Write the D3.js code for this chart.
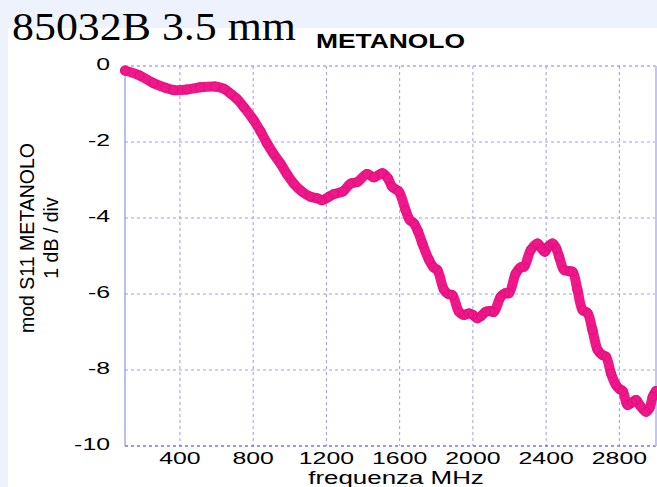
<!DOCTYPE html>
<html>
<head>
<meta charset="utf-8">
<script src="https://cdn.jsdelivr.net/npm/d3@7"></script>
<style>
    html, body { margin: 0; padding: 0; background: #eef2fc; }
    svg { display: block; }
    text { font-family: "Liberation Sans", Arial, Helvetica, sans-serif; fill: #000; }
</style>
</head>
<body>
<div id="chart"></div>
<script>
// frequency in MHz, |S11| in dB
var frequencies = [100, 180, 255, 320, 364, 438, 510, 592, 640, 675, 710, 747, 802, 840, 875, 910, 948, 985,
    1021, 1065, 1112, 1150, 1176, 1210, 1240, 1290, 1331, 1370, 1422, 1459, 1505, 1535, 1559, 1596, 1632, 1655,
    1678, 1700, 1724, 1760, 1785, 1806, 1842, 1865, 1888, 1924, 1950, 1979, 2000, 2024, 2045, 2070, 2095, 2115,
    2152, 2175, 2197, 2234, 2260, 2280, 2316, 2353, 2375, 2393, 2412, 2435, 2455, 2471, 2498, 2525, 2544, 2571,
    2599, 2626, 2653, 2681, 2705, 2727, 2754, 2781, 2800, 2818, 2845, 2870, 2891, 2915, 2945, 2965, 2982, 3000];
var s11Values = [-0.12, -0.25, -0.45, -0.57, -0.63, -0.62, -0.56, -0.54, -0.6, -0.72, -0.86, -1.07, -1.42, -1.72, -2.03, -2.3, -2.56, -2.85,
    -3.09, -3.3, -3.44, -3.48, -3.53, -3.45, -3.37, -3.3, -3.1, -3.05, -2.84, -2.93, -2.82, -2.95, -3.18, -3.31, -3.79, -4.05,
    -4.14, -4.35, -4.67, -5.1, -5.3, -5.37, -5.89, -6.0, -6.03, -6.47, -6.55, -6.51, -6.55, -6.64, -6.58, -6.47, -6.45, -6.47,
    -6.07, -5.98, -5.98, -5.46, -5.3, -5.28, -4.84, -4.67, -4.8, -4.89, -4.75, -4.67, -4.8, -5.02, -5.37, -5.4, -5.41, -5.89,
    -6.42, -6.5, -6.95, -7.47, -7.6, -7.65, -8.09, -8.39, -8.5, -8.55, -8.92, -8.85, -8.79, -8.95, -9.1, -9.0, -8.7, -8.55];
var xTicks = [400, 800, 1200, 1600, 2000, 2400, 2800];
var yTicks = [0, -2, -4, -6, -8, -10];

var titleText = "85032B 3.5 mm";
var subtitleText = "METANOLO";
var xLabel = "frequenza MHz";
var yLabelLines = ["mod S11 METANOLO", "1 dB / div"];

var width = 657, height = 487;
var plot = {left: 125, right: 656, top: 66, bottom: 446};
var curveColor = "#ef1789";
var gridColor = "#9c9cf0";

function stretchedText(parent, x, y, str, size, sx, anchor){
    // horizontally stretched label, the original picture is wider than its fonts
    return parent.append("text")
        .attr("transform", "translate(" + x + "," + y + ") scale(" + sx + ",1)")
        .attr("text-anchor", anchor)
        .style("font-size", size + "px")
        .text(str);
}

function drawChart(){
    var svg = d3.select("#chart").append("svg")
        .attr("width", width)
        .attr("height", height);

    svg.append("rect")
        .attr("x", 8).attr("y", 28)
        .attr("width", width - 8).attr("height", height - 28)
        .attr("fill", "#fff");

    var x = d3.scaleLinear().domain([100, 3000]).range([plot.left, plot.right]);
    var y = d3.scaleLinear().domain([-10, 0]).range([plot.bottom, plot.top]);

    // grid
    var grid = svg.append("g");
    grid.selectAll("line.vgrid").data(xTicks).enter().append("line")
        .attr("x1", function(d){ return x(d); }).attr("x2", function(d){ return x(d); })
        .attr("y1", plot.top).attr("y2", plot.bottom)
        .attr("stroke", gridColor).attr("stroke-dasharray", "3,3");
    grid.selectAll("line.hgrid").data(yTicks).enter().append("line")
        .attr("x1", plot.left).attr("x2", plot.right)
        .attr("y1", function(d){ return y(d); }).attr("y2", function(d){ return y(d); })
        .attr("stroke", function(d){ return d == -10 ? "#2c2ce6" : (d == 0 ? "#7e7ef0" : gridColor); })
        .attr("stroke-dasharray", "3,3");
    grid.append("line")
        .attr("x1", plot.left).attr("x2", plot.left)
        .attr("y1", plot.top).attr("y2", plot.bottom)
        .attr("stroke", "#7b7bee");
    grid.append("line")
        .attr("x1", plot.right).attr("x2", plot.right)
        .attr("y1", plot.top).attr("y2", plot.bottom)
        .attr("stroke", "#c4c4f6").attr("stroke-width", 2);

    // tick labels
    var labels = svg.append("g");
    xTicks.forEach(function(d){
        stretchedText(labels, x(d), 464, d, 17, 1.46, "middle");
    });
    yTicks.forEach(function(d){
        stretchedText(labels, 110, y(d) + 4, d, 17, 1.46, "end");
    });
    stretchedText(labels, 396, 484, xLabel, 17.5, 1.48, "middle");

    labels.selectAll("text.ylabel").data(yLabelLines).enter().append("text")
        .attr("transform", function(d, i){ return "translate(" + (34 + i * 24) + ",238) rotate(-90)"; })
        .attr("text-anchor", "middle")
        .style("font-size", "19.5px")
        .text(function(d){ return d; });

    // titles
    svg.append("text")
        .attr("x", 12).attr("y", 40)
        .attr("textLength", 284).attr("lengthAdjust", "spacingAndGlyphs")
        .style("font-family", "'Liberation Serif', 'Times New Roman', serif")
        .style("font-size", "40px")
        .text(titleText);
    svg.append("text")
        .attr("x", 316).attr("y", 48)
        .attr("textLength", 149).attr("lengthAdjust", "spacingAndGlyphs")
        .style("font-size", "20px").style("font-weight", "bold")
        .text(subtitleText);

    // trace: thick line with the marker circles on it
    var points = frequencies.map(function(f, i){ return {f: f, v: s11Values[i]}; });
    var line = d3.line()
        .x(function(d){ return x(d.f); })
        .y(function(d){ return y(d.v); })
        .curve(d3.curveCatmullRom);
    svg.append("path")
        .datum(points)
        .attr("d", line)
        .attr("fill", "none")
        .attr("stroke", curveColor)
        .attr("stroke-width", 10)
        .attr("stroke-linecap", "round")
        .attr("stroke-linejoin", "round");
    svg.append("g").selectAll("circle").data(points).enter().append("circle")
        .attr("cx", function(d){ return x(d.f); })
        .attr("cy", function(d){ return y(d.v); })
        .attr("r", 4.5)
        .attr("fill", "none")
        .attr("stroke", "#e0107e")
        .attr("stroke-width", 1);
}

drawChart();
</script>
</body>
</html>
